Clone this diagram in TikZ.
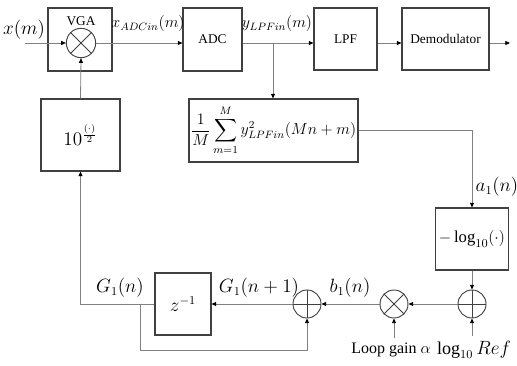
\documentclass[tikz,border=0pt]{standalone}
\usepackage{amsmath,amssymb}
\usepackage{fontspec}
\setmainfont{Liberation Serif}
\usetikzlibrary{arrows.meta,positioning,calc}
\definecolor{agcline}{RGB}{128,128,128}
\definecolor{agcedge}{RGB}{64,64,64}

\begin{document}
\begin{tikzpicture}[
  x=0.75pt, y=-0.75pt,
  font=\fontsize{13.5}{16}\selectfont,
  blk/.style={draw=agcedge, line width=0.8pt, inner sep=0pt, align=center},
  mixer/.style={circle, draw=agcedge, line width=0.7pt, minimum size=22pt, inner sep=0pt},
  adder/.style={circle, draw=agcedge, line width=0.7pt, minimum size=21pt, inner sep=0pt},
  wire/.style={draw=agcline, line width=0.6pt},
  sig/.style={wire, -{Triangle[length=3.5pt,width=3pt,black]}},
  txt/.style={font=\fontsize{10}{12}\selectfont},
  sublbl/.style={font=\fontsize{12}{14}\selectfont, inner sep=1pt}
]
\useasboundingbox (0,0) rectangle (517,366);

% ---- Forward path ----
\coordinate (xin) at (25,43);
\node[blk, minimum width=48pt, minimum height=47.25pt] (vga) at (80,39.5) {};
\node[txt] (vgalbl) at (81,21) {VGA};
\node[mixer] (mix1) at (81,43) {};
\draw[agcedge, line width=0.6pt] (mix1.north west) -- (mix1.south east)
  (mix1.north east) -- (mix1.south west);
\node[blk, txt, minimum width=44.25pt, minimum height=47.25pt] (adc) at (212.5,39.5) {ADC};
\node[blk, txt, minimum width=47.25pt, minimum height=46.5pt] (lpf) at (345.5,39) {LPF};
\node[blk, txt, minimum width=65.25pt, minimum height=46.5pt] (demod) at (445.5,39) {Demodulator};
\coordinate (yout) at (510,43);

\draw[sig] (xin) -- (mix1.west);
\draw[sig] (mix1.east) -- (adc.west |- mix1.east);
\draw[sig] (adc.east |- mix1.east) -- (lpf.west |- mix1.east);
\draw[sig] (lpf.east |- mix1.east) -- (demod.west |- mix1.east);
\draw[sig] (demod.east |- mix1.east) -- (yout);

\node (xlbl) at (24,30) {$x(m)$};
\node[sublbl] (xadc) at (148,24) {$x_{ADCin}(m)$};
\node[sublbl] (ylpf) at (277,24) {$y_{LPFin}(m)$};

% ---- Power estimate ----
\coordinate (tapy) at (273,43);
\node[blk, minimum width=126.75pt, minimum height=47.25pt,
      font=\fontsize{12}{14}\selectfont] (avg) at (273.5,130.5)
  {$\dfrac{1}{M}\displaystyle\sum_{m=1}^{M} y_{LPFin}^{2}(Mn+m)$};
\draw[sig] (tapy) -- (tapy |- avg.north);

\node[blk, minimum width=54.75pt, minimum height=46.5pt,
      font=\fontsize{12.5}{15}\selectfont] (logb) at (472,239) {$-\log_{10}(\cdot)$};
\draw[sig] (avg.east) -| (logb.north);
\node (albl) at (497,187) {$a_1(n)$};

% ---- Loop filter ----
\node[adder] (sumR) at (472,304) {};
\node[mixer, minimum size=21pt] (mix2) at (394,304) {};
\node[adder] (sumL) at (307,304) {};
\foreach \s in {sumR,sumL}{
  \draw[agcedge, line width=0.6pt] (\s.north) -- (\s.south) (\s.west) -- (\s.east);
}
\draw[agcedge, line width=0.6pt] (mix2.north west) -- (mix2.south east)
  (mix2.north east) -- (mix2.south west);
\node[blk, minimum width=42pt, minimum height=46.5pt] (zdel) at (183,304) {$z^{-1}$};
\node[blk, minimum width=59.25pt, minimum height=54pt,
      font=\fontsize{14.5}{17}\selectfont] (pw) at (80.5,135) {$10^{\frac{(\cdot)}{2}}$};

\node (refl) at (474,350) {$\log_{10} Ref$};
\node[font=\fontsize{12}{14}\selectfont] (gain) at (391,350) {Loop gain $\alpha$};

\draw[sig] (logb.south) -- (sumR.north);
\draw[sig] (sumR |- refl.north) -- (sumR.south);
\draw[sig] (sumR.west) -- (mix2.east);
\draw[sig] (mix2 |- gain.north) -- (mix2.south);
\draw[sig] (mix2.west) -- (sumL.east);
\draw[sig] (sumL.west) -- (zdel.east);
\draw[sig] (zdel.west) -| (pw.south);
\draw[sig] (pw.north) -- (mix1.south);

\coordinate (tapg) at (140,304);
\coordinate (fbk) at (140,350);
\draw[sig] (tapg) -- (fbk) -| (sumL.south);

\node (bl) at (350,288) {$b_1(n)$};
\node (gn1) at (259,288) {$G_1(n+1)$};
\node (gn) at (120,288) {$G_1(n)$};

\end{tikzpicture}
\end{document}
